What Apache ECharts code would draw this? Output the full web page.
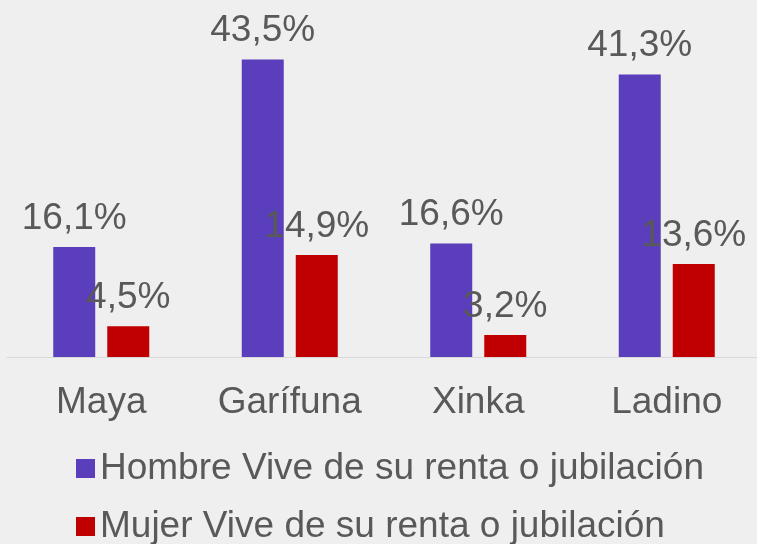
<!DOCTYPE html>
<html>
<head>
<meta charset="utf-8">
<script src="https://cdn.jsdelivr.net/npm/echarts@6/dist/echarts.min.js"></script>
<style>
html,body{margin:0;padding:0;background:#efefef;overflow:hidden;width:757px;height:544px;}
#c{width:762px;height:544px;}
</style>
</head>
<body>
<div id="c"></div>
<script>
var categories = ['Maya', 'Garífuna', 'Xinka', 'Ladino'];
var seriesNames = ['Hombre Vive de su renta o jubilación', 'Mujer Vive de su renta o jubilación'];
var hombre = [16.1, 43.5, 16.6, 41.3];
var mujer = [4.5, 14.9, 3.2, 13.6];

var font = 'Liberation Sans, Arial, sans-serif';
function fmt(p) { return p.value.toFixed(1).replace('.', ',') + '%'; }
var labelStyle = { show: true, position: 'top', distance: 10, formatter: fmt, fontSize: 37, fontFamily: font, color: '#595959' };
var legendText = { fontSize: 37, fontFamily: font, color: '#595959' };

var chart = echarts.init(document.getElementById('c'));
chart.setOption({
  backgroundColor: '#efefef',
  animation: false,
  grid: { left: 7, width: 754, top: 15, height: 342 },
  xAxis: {
    type: 'category',
    data: categories,
    axisLine: { lineStyle: { color: '#d9d9d9', width: 1 } },
    axisTick: { show: false },
    axisLabel: { fontSize: 37, fontFamily: font, color: '#595959', margin: 27 }
  },
  yAxis: { type: 'value', min: 0, max: 50, show: false, splitLine: { show: false } },
  legend: [
    { left: 71, top: 445, icon: 'rect', itemWidth: 19, itemHeight: 19, textStyle: legendText, data: [seriesNames[0]] },
    { left: 71, top: 503, icon: 'rect', itemWidth: 19, itemHeight: 19, textStyle: legendText, data: [seriesNames[1]] }
  ],
  series: [
    { name: seriesNames[0], type: 'bar', data: hombre, barWidth: 42, barGap: '28.6%', itemStyle: { color: '#5a3ebb' }, label: labelStyle },
    { name: seriesNames[1], type: 'bar', data: mujer, barWidth: 42, barGap: '28.6%', itemStyle: { color: '#c00000' }, label: labelStyle }
  ]
});
</script>
</body>
</html>
